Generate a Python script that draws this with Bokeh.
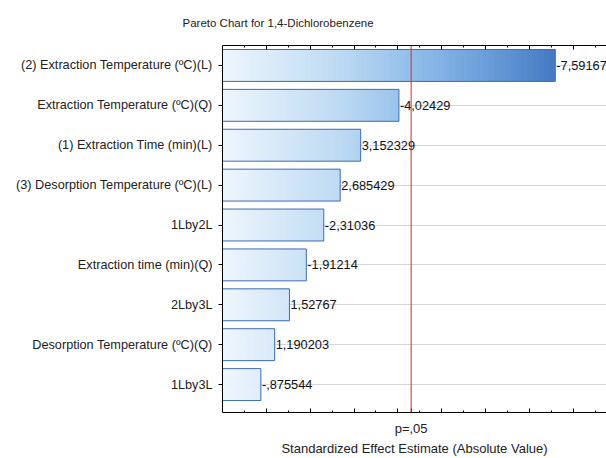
from bokeh.plotting import figure
from bokeh.models import (ColumnDataSource, Range1d, Span, LinearAxis,
                          FixedTicker, CustomJSTickFormatter)
from bokeh.core.properties import value
from bokeh.embed import file_html
from bokeh.resources import INLINE

# Effects, ordered from largest to smallest absolute standardized estimate
effects = [
    "(2) Extraction Temperature (ºC)(L)",
    "Extraction Temperature (ºC)(Q)",
    "(1) Extraction Time (min)(L)",
    "(3) Desorption Temperature (ºC)(L)",
    "1Lby2L",
    "Extraction time (min)(Q)",
    "2Lby3L",
    "Desorption Temperature (ºC)(Q)",
    "1Lby3L",
]
estimates = [-7.59167, -4.02429, 3.152329, 2.685429, -2.31036, -1.91214, 1.52767, 1.190203, -0.875544]
value_labels = ["-7,59167", "-4,02429", "3,152329", "2,685429", "-2,31036",
                "-1,91214", "1,52767", "1,190203", "-,875544"]
t_crit = 4.302653          # p = .05 cutoff
x_major = [1, 2, 3, 4, 5, 6, 7, 8]
x_minor = [0.5, 1.5, 2.5, 3.5, 4.5, 5.5, 6.5, 7.5, 8.5]

FONT = "Liberation Sans"
magnitudes = [abs(v) for v in estimates]
max_mag = max(magnitudes)
n = len(effects)
rows = [n - 1 - i for i in range(n)]      # first effect on top

p = figure(width=606, height=458, output_backend="svg", toolbar_location=None,
           y_range=Range1d(-0.7, n - 0.5),
           x_range=Range1d(0, 8.76),
           x_axis_location=None, y_axis_location=None,
           min_border_left=222, min_border_right=0, min_border_top=45, min_border_bottom=43)
p.outline_line_color = None
p.background_fill_color = "white"
p.border_fill_color = "white"

p.title.text = "Pareto Chart for 1,4-Dichlorobenzene"
p.title.text_font = FONT
p.title.text_font_size = "11.5px"
p.title.text_font_style = "normal"
p.title.text_color = "#222222"
p.title.align = "left"
p.title.offset = -40
p.title.standoff = 30
p.title.vertical_align = "top"

# Horizontal gradient fill: each bar is cut into thin slices shaded by x position
stops = [(0.0, (238, 246, 253)), (0.35, (190, 218, 243)), (0.6, (140, 186, 232)),
         (0.8, (105, 156, 216)), (1.0, (68, 122, 194))]


def shade(t):
    for (t0, c0), (t1, c1) in zip(stops[:-1], stops[1:]):
        if t <= t1:
            f = (t - t0) / (t1 - t0)
            return "#%02x%02x%02x" % tuple(int(round(a + (b - a) * f)) for a, b in zip(c0, c1))
    return "#%02x%02x%02x" % stops[-1][1]


N = 60
sy, sl, sr, sc = [], [], [], []
for row, m in zip(rows, magnitudes):
    w = m / N
    for i in range(N):
        sy.append(row)
        sl.append(i * w)
        sr.append(min((i + 1.6) * w, m))
        sc.append(shade((i + 0.5) * w / max_mag))

slices = ColumnDataSource(dict(y=sy, left=sl, right=sr, color=sc))
p.hbar(y="y", left="left", right="right", height=0.8, source=slices,
       fill_color="color", line_color=None)

bars = ColumnDataSource(dict(y=rows, right=magnitudes, label=value_labels))
p.hbar(y="y", left=0, right="right", height=0.8, source=bars,
       fill_color=None, line_color="#3a6cb5", line_width=1)

p.text(x="right", y="y", text="label", source=bars, x_offset=1,
       text_font=value(FONT), text_font_size="12.8px",
       text_baseline="middle", text_align="left", text_color="#111111")

p.add_layout(Span(location=t_crit, dimension="height", line_color="#d42a2a", line_width=1))

# left axis: one tick per effect, labelled with its name
left = LinearAxis(ticker=FixedTicker(ticks=rows, minor_ticks=[]),
                  formatter=CustomJSTickFormatter(args=dict(names=effects, n=n),
                                                  code="return names[n - 1 - Math.round(tick)];"))
left.major_label_text_font = FONT
left.major_label_text_font_size = "12.7px"
left.major_label_text_color = "#222222"
left.axis_line_color = "#000000"
left.major_tick_line_color = "#000000"
left.major_tick_out = 4
left.major_tick_in = 0
left.major_label_standoff = 6
p.add_layout(left, "left")

# grid
p.xgrid.visible = False
p.ygrid.grid_line_color = "#d6d6d6"
p.ygrid.grid_line_width = 1
p.ygrid.ticker = FixedTicker(ticks=rows)

ticker = FixedTicker(ticks=x_major + [t_crit], minor_ticks=x_minor)
crit_fmt = CustomJSTickFormatter(args=dict(crit=t_crit),
                                 code="return Math.abs(tick - crit) < 1e-6 ? 'p=,05' : '';")
blank_fmt = CustomJSTickFormatter(code="return '';")

bottom = LinearAxis(ticker=ticker, formatter=crit_fmt,
                    axis_label="Standardized Effect Estimate (Absolute Value)")
bottom.major_tick_in = 4
bottom.major_tick_out = 0
bottom.minor_tick_in = 2
bottom.minor_tick_out = 0
bottom.axis_line_color = "#000000"
bottom.major_label_text_font = FONT
bottom.major_label_text_font_size = "13px"
bottom.major_label_text_color = "#222222"
bottom.major_label_standoff = 8
bottom.axis_label_text_font = FONT
bottom.axis_label_text_font_size = "13px"
bottom.axis_label_text_font_style = "normal"
bottom.axis_label_text_color = "#222222"
bottom.axis_label_standoff = 2
p.add_layout(bottom, "below")

top = LinearAxis(ticker=FixedTicker(ticks=x_major, minor_ticks=x_minor), formatter=blank_fmt)
top.major_tick_in = 4
top.major_tick_out = 0
top.minor_tick_in = 2
top.minor_tick_out = 0
top.axis_line_color = "#000000"
top.major_label_text_font_size = "0px"
top.major_label_standoff = 0
p.add_layout(top, "above")

open("out.html", "w").write(file_html(p, INLINE))
